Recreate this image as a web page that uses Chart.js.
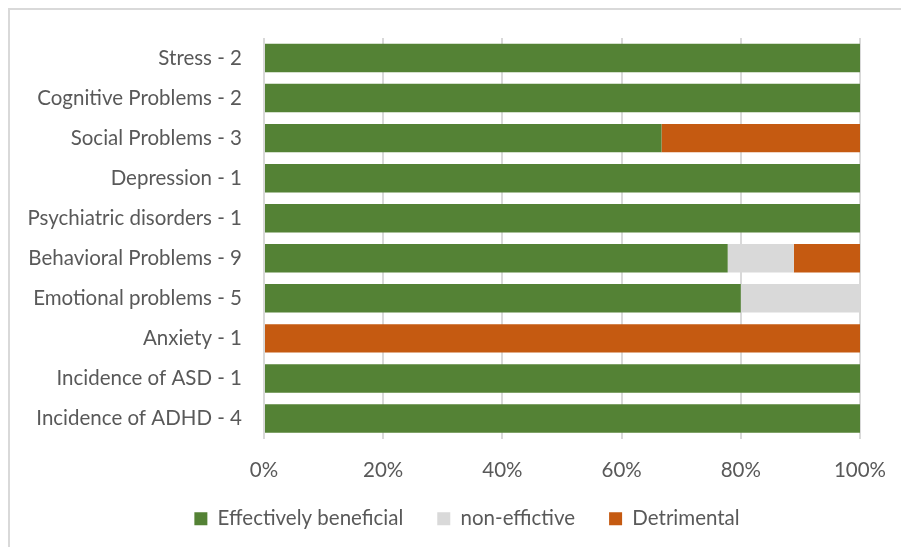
<!DOCTYPE html>
<html>
<head>
<meta charset="utf-8">
<script src="https://cdn.jsdelivr.net/npm/chart.js@4/dist/chart.umd.min.js"></script>
<style>
  html, body { margin: 0; padding: 0; background: #fff; }
  #wrap { position: relative; width: 901px; height: 547px; overflow: hidden; }
  #frame { position: absolute; left: 8px; top: 8px; width: 900px; height: 600px;
           border-left: 2px solid #d9d9d9; border-top: 2px solid #d9d9d9; }
  canvas { position: absolute; left: 0; top: 0; }
</style>
</head>
<body>
<div id="wrap">
  <div id="frame"></div>
  <canvas id="c" width="901" height="547"></canvas>
</div>
<script>
const categories = [
  "Stress - 2",
  "Cognitive Problems - 2",
  "Social Problems - 3",
  "Depression - 1",
  "Psychiatric disorders - 1",
  "Behavioral Problems - 9",
  "Emotional problems - 5",
  "Anxiety - 1",
  "Incidence of ASD - 1",
  "Incidence of ADHD - 4"
];
const effectivelyBeneficial = [100, 100, 66.7, 100, 100, 77.8, 80, 0, 100, 100];
const nonEffective          = [0, 0, 0, 0, 0, 11.1, 20, 0, 0, 0];
const detrimental           = [0, 0, 33.3, 0, 0, 11.1, 0, 100, 0, 0];
const xTicks = [0, 20, 40, 60, 80, 100];

const FONT = "Lato, 'Open Sans', sans-serif";
const TEXT = "#595959";
const FS = 20.5;

const shiftLegend = {
  id: "shiftLegend",
  afterLayout(chart) {
    const l = chart.legend;
    if (l) { l.left += 32; l.right += 32; l.top -= 16; l.bottom -= 16; }
  }
};

new Chart(document.getElementById("c"), {
  type: "bar",
  data: {
    labels: categories,
    datasets: [
      { label: "Effectively beneficial", data: effectivelyBeneficial, backgroundColor: "#548235" },
      { label: "non-effictive", data: nonEffective, backgroundColor: "#D9D9D9" },
      { label: "Detrimental", data: detrimental, backgroundColor: "#C55A11" }
    ]
  },
  plugins: [shiftLegend],
  options: {
    indexAxis: "y",
    responsive: false,
    animation: false,
    devicePixelRatio: 1,
    datasets: { bar: { categoryPercentage: 1, barPercentage: 0.71, borderWidth: 0 } },
    layout: { padding: { left: 10, top: 38, right: 41, bottom: -8 } },
    scales: {
      x: {
        stacked: true, min: 0, max: 100,
        afterBuildTicks: (axis) => { axis.ticks = xTicks.map(v => ({ value: v })); },
        afterFit: (axis) => { axis.height = 52; axis.paddingLeft = 0; axis.paddingRight = 0; },
        border: { display: false },
        grid: { color: "#D9D9D9", lineWidth: 2, drawTicks: false },
        ticks: { padding: 20, color: TEXT, font: { family: FONT, size: FS },
                 callback: (v) => v + "%" }
      },
      y: {
        stacked: true,
        afterFit: (axis) => { axis.width = 254; axis.paddingTop = 0; axis.paddingBottom = 0; },
        border: { display: false },
        grid: { display: false },
        ticks: { padding: 14, color: TEXT, font: { family: FONT, size: FS } }
      }
    },
    plugins: {
      legend: {
        position: "bottom",
        labels: { color: TEXT, font: { family: FONT, size: FS }, boxWidth: 13, boxHeight: 13, padding: 34 }
      },
      tooltip: { enabled: false }
    }
  }
});
</script>
</body>
</html>
